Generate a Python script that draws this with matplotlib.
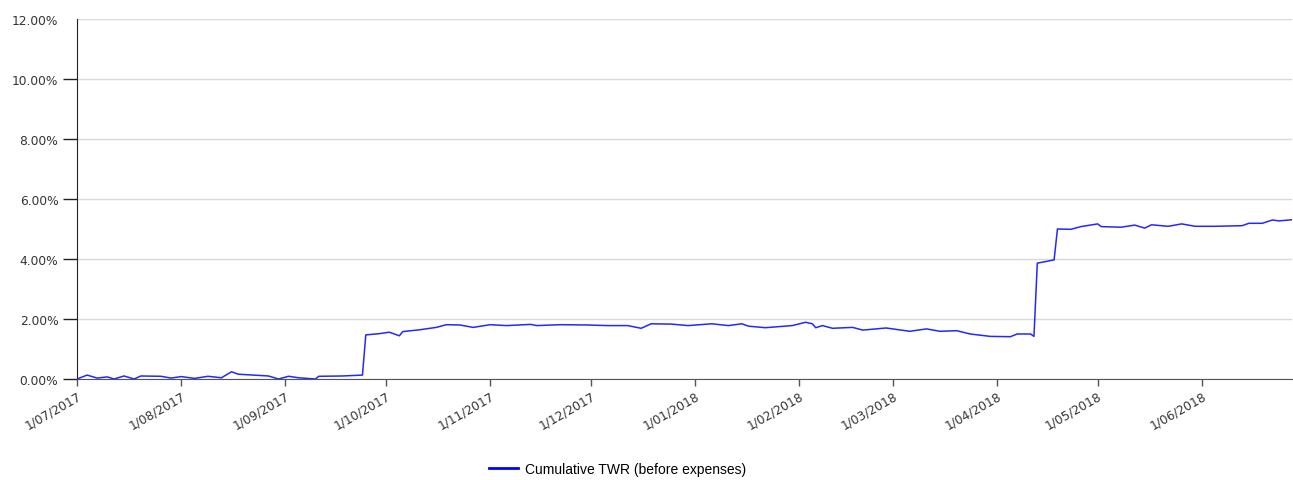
import numpy as np
import pandas as pd
import matplotlib
matplotlib.use("Agg")
import matplotlib.pyplot as plt
import matplotlib.dates as mdates
from matplotlib.ticker import FuncFormatter, FixedLocator

# --- Data (cumulative TWR, %) ---
START = "2017-07-01"
DAY_OFFSETS = [
    0, 3, 6, 9, 11, 14, 17, 19, 25, 28, 31, 35, 39, 43, 46, 48, 54, 57, 60, 63,
    66, 71, 72, 79, 85, 86, 90, 93, 96, 97, 102, 107, 110, 114, 118, 123, 128,
    135, 137, 144, 152, 158, 164, 168, 171, 177, 182, 189, 194, 198, 200, 205,
    213, 217, 219, 220, 222, 225, 231, 234, 241, 248, 253, 257, 262, 266, 272,
    278, 280, 284, 285, 286, 291, 292, 296, 299, 304, 305, 311, 315, 318, 320,
    325, 329, 333, 339, 347, 349, 353, 356, 358, 362,
]
TWR = [
    0.00, 0.13, 0.03, 0.07, 0.00, 0.10, 0.00, 0.10, 0.09, 0.03, 0.08, 0.02,
    0.09, 0.04, 0.24, 0.16, 0.12, 0.10, 0.00, 0.09, 0.04, 0.00, 0.09, 0.10,
    0.13, 1.47, 1.51, 1.56, 1.44, 1.58, 1.64, 1.72, 1.81, 1.80, 1.72, 1.81,
    1.78, 1.82, 1.78, 1.81, 1.80, 1.78, 1.78, 1.69, 1.84, 1.83, 1.78, 1.84,
    1.78, 1.84, 1.76, 1.71, 1.78, 1.89, 1.84, 1.71, 1.78, 1.69, 1.72, 1.63,
    1.70, 1.59, 1.67, 1.59, 1.61, 1.50, 1.42, 1.41, 1.50, 1.50, 1.42, 3.86,
    3.97, 5.00, 4.99, 5.08, 5.17, 5.08, 5.06, 5.13, 5.03, 5.14, 5.09, 5.17,
    5.09, 5.09, 5.11, 5.19, 5.19, 5.30, 5.27, 5.31,
]
Y_TICKS = [0, 2, 4, 6, 8, 10]
Y_TOP = 12
LEGEND_LABEL = "Cumulative TWR (before expenses)"


def pct(v, _):
    return f"{v:.2f}%"


def main():
    dates = pd.Timestamp(START) + pd.to_timedelta(DAY_OFFSETS, unit="D")

    fig = plt.figure(figsize=(12.93, 4.81), dpi=100)
    ax = fig.add_axes([0.0596, 0.21, 0.9400, 0.7484])

    ax.plot(dates, TWR, color="#0000ff", linewidth=1.1, alpha=0.85)

    ax.set_xlim(dates[0], dates[-1])
    ax.set_ylim(0, Y_TOP)
    # top label sits on a minor tick so it gets a gridline but no tick mark
    ax.yaxis.set_major_locator(FixedLocator(Y_TICKS))
    ax.yaxis.set_minor_locator(FixedLocator([Y_TOP]))
    ax.yaxis.set_major_formatter(FuncFormatter(pct))
    ax.yaxis.set_minor_formatter(FuncFormatter(pct))
    ax.grid(axis="y", which="both", color="#d9d9d9", linewidth=1)
    ax.set_axisbelow(True)

    ax.xaxis.set_major_locator(mdates.MonthLocator(bymonthday=1))
    ax.xaxis.set_major_formatter(
        FuncFormatter(lambda v, _: mdates.num2date(v).strftime("%d/%m/%Y").lstrip("0")))

    for side in ("top", "right"):
        ax.spines[side].set_visible(False)
    ax.spines["left"].set_color("#222222")
    ax.spines["bottom"].set_color("#555555")

    ax.tick_params(axis="y", which="major", length=10, width=1, color="#222222",
                   labelsize=8.8, labelcolor="#333333", pad=3.5)
    ax.tick_params(axis="y", which="minor", length=0,
                   labelsize=8.8, labelcolor="#333333", pad=13.5)
    ax.tick_params(axis="x", length=5, width=1, color="#555555",
                   labelsize=8.8, labelcolor="#333333", pad=2)
    for lbl in ax.get_xticklabels():
        lbl.set_rotation(30)
        lbl.set_ha("right")
        lbl.set_rotation_mode("anchor")

    # legend handle drawn as a plain solid blue line
    handle = plt.Line2D([], [], color="#0000ff", linewidth=2)
    fig.legend(handles=[handle], labels=[LEGEND_LABEL], loc="center",
               bbox_to_anchor=(0.4776, 0.023), frameon=False,
               handlelength=2.1, handletextpad=0.5,
               prop={"family": "Liberation Sans", "size": 10})

    fig.savefig("out.png", dpi=100)


if __name__ == "__main__":
    main()
